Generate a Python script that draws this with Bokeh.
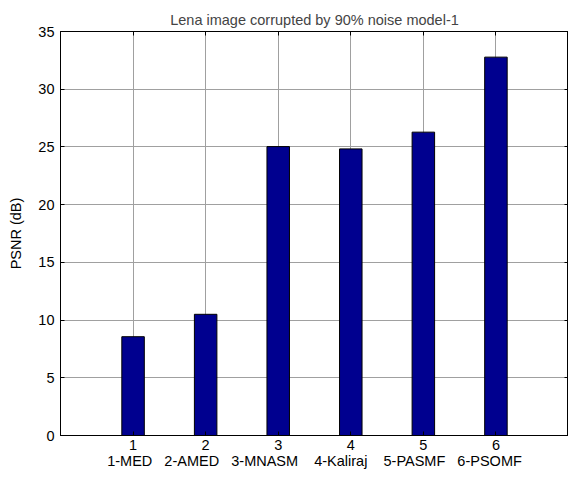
from bokeh.plotting import figure
from bokeh.models import Range1d, LinearAxis, FixedTicker, ColumnDataSource
from bokeh.embed import file_html
from bokeh.resources import INLINE

positions = [1, 2, 3, 4, 5, 6]
psnr = [8.56, 10.5, 25.03, 24.83, 26.28, 32.78]
y_ticks = [0, 5, 10, 15, 20, 25, 30, 35]
title_text = "Lena image corrupted by 90% noise model-1"
NB = "\u00a0"
x_label = ("1-MED" + NB * 3 + "2-AMED" + NB * 3 + "3-MNASM" + NB * 4 + "4-Kaliraj"
           + NB * 4 + "5-PASMF" + NB * 3 + "6-PSOMF")
y_label = "PSNR (dB)"

FONT = "Liberation Sans"
FS = "14.5px"

p = figure(width=568, height=471, output_backend="svg", toolbar_location=None,
           x_range=Range1d(0, 7), y_range=Range1d(0, 35),
           min_border_left=60, min_border_right=0, min_border_top=31, min_border_bottom=36,
           title=title_text)
p.title.align = "center"
p.title.text_font = FONT
p.title.text_font_size = FS
p.title.text_font_style = "normal"
p.title.offset = 0
p.title.standoff = 8

src = ColumnDataSource(dict(x=positions, top=psnr))
p.vbar(x="x", top="top", bottom=0, width=0.31, source=src,
       fill_color="#00008F", line_color="black", line_width=1)

for ax in (p.xaxis[0], p.yaxis[0]):
    ax.major_tick_in = 4
    ax.major_tick_out = 0
    ax.minor_tick_line_color = None
    ax.axis_line_color = "black"
    ax.major_tick_line_color = "black"
    ax.major_label_text_font = FONT
    ax.major_label_text_font_size = FS
    ax.major_label_text_color = "black"
    ax.axis_label_text_font = FONT
    ax.axis_label_text_font_size = FS
    ax.axis_label_text_font_style = "normal"
    ax.axis_label_text_color = "black"

p.xaxis.ticker = FixedTicker(ticks=positions)
p.yaxis.ticker = FixedTicker(ticks=y_ticks)
p.xaxis.axis_label = x_label
p.yaxis.axis_label = y_label
p.xaxis.major_label_standoff = 4
p.xaxis.axis_label_standoff = 0
p.yaxis.major_label_standoff = 6
p.yaxis.axis_label_standoff = 11

rax = LinearAxis(ticker=FixedTicker(ticks=y_ticks), major_label_text_color=None,
                 major_tick_in=4, major_tick_out=0, minor_tick_line_color=None,
                 axis_line_color="black", major_label_standoff=0)
p.add_layout(rax, "right")
tax = LinearAxis(ticker=FixedTicker(ticks=positions), major_label_text_color=None,
                 major_tick_in=4, major_tick_out=0, minor_tick_line_color=None,
                 axis_line_color="black", major_label_standoff=0)
p.add_layout(tax, "above")

p.xgrid.ticker = FixedTicker(ticks=positions)
p.ygrid.ticker = FixedTicker(ticks=y_ticks)
p.grid.grid_line_color = "#a0a0a0"
p.grid.grid_line_width = 1
p.outline_line_color = "black"

open("out.html", "w").write(file_html(p, INLINE))
